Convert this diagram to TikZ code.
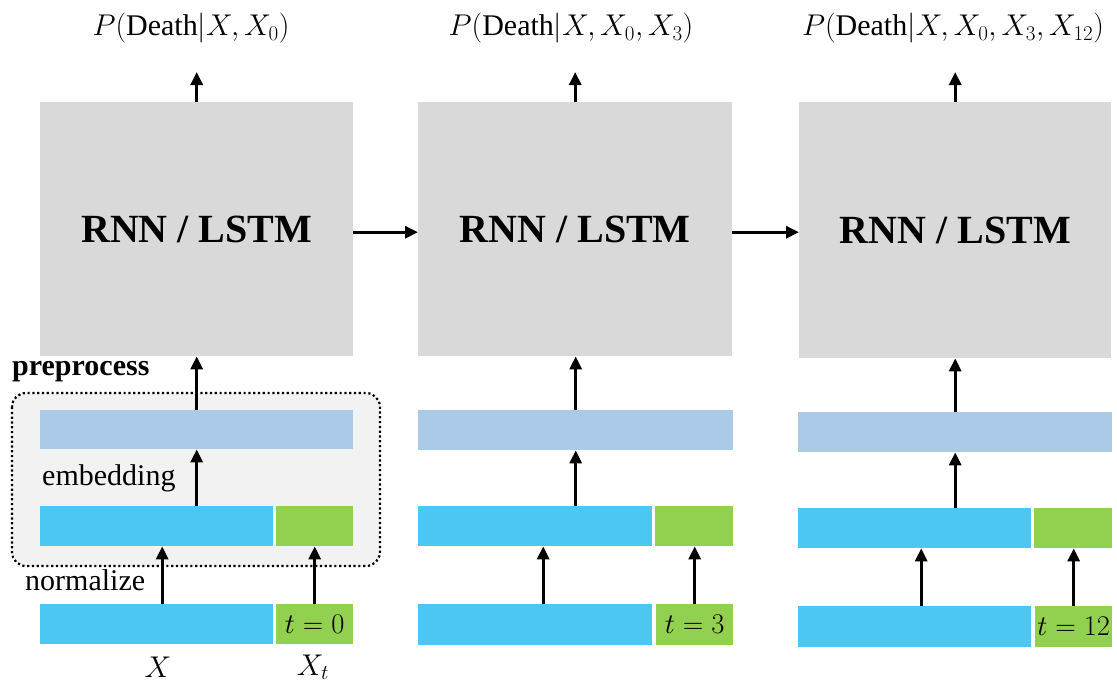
\documentclass[tikz,border=0pt]{standalone}
\usepackage{fix-cm}
\usepackage{fontspec}
\setmainfont{Liberation Serif}
\usetikzlibrary{arrows.meta}
\definecolor{rnngray}{HTML}{D9D9D9}
\definecolor{embblue}{HTML}{AACAE7}
\definecolor{featblue}{HTML}{4CC7F1}
\definecolor{timegreen}{HTML}{92D050}
\definecolor{prebg}{HTML}{F2F2F2}
\tikzset{
  bar/.style={draw=none, inner sep=0pt, anchor=north west},
  rnn/.style={bar, fill=rnngray, font=\fontsize{40}{44}\selectfont\bfseries},
  emb/.style={bar, fill=embblue},
  feat/.style={bar, fill=featblue},
  tim/.style={bar, fill=timegreen, font=\fontsize{28.5}{31}\selectfont},
  arr/.style={-{Triangle[width=12pt,length=13pt]}, line width=3pt},
  title/.style={font=\fontsize{30}{34}\selectfont, inner sep=0pt},
  lbl/.style={font=\fontsize{30}{34}\selectfont, inner sep=0pt},
}
\begin{document}
\begin{tikzpicture}[x=1pt,y=-1pt]
\useasboundingbox (0,0) rectangle (1117,691);
% preprocess frame
\draw[fill=prebg, line width=2.2pt, dash pattern=on 2.2pt off 2.6pt, rounded corners=14pt] (12,393) rectangle (380,566);
\node[lbl, font=\fontsize{30}{34}\selectfont\bfseries, anchor=west] (pre) at (12,372) {preprocess};
\node[lbl, anchor=west] (embl) at (42,478) {embedding};
\node[lbl, anchor=west] (norml) at (25,580) {normalize};
% column 1
\node[rnn, minimum width=313pt, minimum height=254pt] (g1) at (40,102) {RNN / LSTM};
\node[emb, minimum width=313pt, minimum height=39pt] (e1) at (40,410) {};
\node[feat, minimum width=233pt, minimum height=40pt] (m1) at (40,506) {};
\node[tim, minimum width=77pt, minimum height=40pt] (mg1) at (276,506) {};
\node[feat, minimum width=233pt, minimum height=40pt] (b1) at (40,604) {};
\node[tim, minimum width=77pt, minimum height=40pt] (bg1) at (276,604) {$t=0$};
\node[title] (t1) at (191,28) {$P(\mathrm{Death}|X,X_0)$};
\node[lbl] (x1) at (158,667) {$X$};
\node[lbl] (xt1) at (313,667) {$X_t$};
% column 2
\node[rnn, minimum width=314pt, minimum height=254pt] (g2) at (418,102) {RNN / LSTM};
\node[emb, minimum width=315pt, minimum height=40pt] (e2) at (418,410) {};
\node[feat, minimum width=234pt, minimum height=40pt] (m2) at (418,506) {};
\node[tim, minimum width=78pt, minimum height=40pt] (mg2) at (655,506) {};
\node[feat, minimum width=234pt, minimum height=41pt] (b2) at (418,604) {};
\node[tim, minimum width=77pt, minimum height=41pt] (bg2) at (656,604) {$t=3$};
\node[title] (t2) at (571,28) {$P(\mathrm{Death}|X,X_0,X_3)$};
% column 3
\node[rnn, minimum width=312pt, minimum height=256pt] (g3) at (799,102) {RNN / LSTM};
\node[emb, minimum width=314pt, minimum height=40pt] (e3) at (798,412) {};
\node[feat, minimum width=233pt, minimum height=40pt] (m3) at (798,508) {};
\node[tim, minimum width=78pt, minimum height=40pt] (mg3) at (1034,508) {};
\node[feat, minimum width=233pt, minimum height=41pt] (b3) at (798,606) {};
\node[tim, minimum width=77pt, minimum height=41pt] (bg3) at (1035,606) {$t=12$};
\node[title] (t3) at (953,28) {$P(\mathrm{Death}|X,X_0,X_3,X_{12})$};
% arrows
\foreach \c/\dx in {1/5.5,2/8,3/6.5}{
  \draw[arr] (g\c.north) -- ++(0,-30);
  \draw[arr] (e\c.north) -- (e\c.north |- g\c.south);
  \draw[arr] (m\c.north -| e\c.south) -- (e\c.south);
  \draw[arr] ([xshift=\dx pt]b\c.north) -- ([xshift=\dx pt]b\c.north |- m\c.south);
  \draw[arr] (bg\c.north) -- (bg\c.north |- mg\c.south);
}
\draw[arr] ([yshift=-3pt]g1.east) -- ([yshift=-3pt]g1.east -| g2.west);
\draw[arr] ([yshift=-3pt]g2.east) -- ([yshift=-3pt]g2.east -| g3.west);
\end{tikzpicture}
\end{document}
